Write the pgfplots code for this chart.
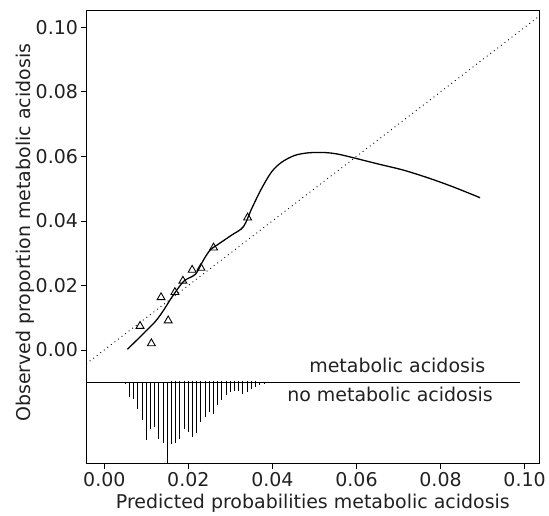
\documentclass[border=0pt]{standalone}
\usepackage{pgfplots}
\pgfplotsset{compat=1.18}
\usepackage{fontspec}
\setmainfont{DejaVu Sans}
\newcommand{\fs}{\fontsize{19.1}{23}\selectfont}
\definecolor{txt}{gray}{0.13}

\pgfplotstableread{
x y
0.0055 0.0002
0.0091 0.0048
0.0122 0.0089
0.0142 0.0125
0.0162 0.0166
0.0189 0.0213
0.0217 0.0235
0.0236 0.0279
0.0252 0.0310
0.0268 0.0325
0.0303 0.0356
0.0331 0.0382
0.0351 0.0439
0.0374 0.0500
0.0398 0.0552
0.0422 0.0582
0.0453 0.0603
0.0485 0.0611
0.0524 0.0612
0.0556 0.0607
0.0595 0.0595
0.0650 0.0577
0.0713 0.0557
0.0776 0.0531
0.0831 0.0505
0.0894 0.0472
}\curve

\pgfplotstableread{
x y
0.0341 0.0410
0.0260 0.0317
0.0230 0.0254
0.0209 0.0248
0.0187 0.0214
0.0168 0.0179
0.0135 0.0163
0.0085 0.0074
0.0152 0.0091
0.0112 0.0020
}\groups

\pgfplotstableread{
x y d
0.005 -0.01 0.0005
0.006 -0.01 0.0046
0.007 -0.01 0.0051
0.008 -0.01 0.0082
0.009 -0.01 0.0118
0.010 -0.01 0.0180
0.011 -0.01 0.0144
0.012 -0.01 0.0139
0.013 -0.01 0.0175
0.014 -0.01 0.0190
0.015 -0.01 0.0252
0.016 -0.01 0.0192
0.017 -0.01 0.0188
0.018 -0.01 0.0175
0.019 -0.01 0.0144
0.020 -0.01 0.0154
0.021 -0.01 0.0169
0.022 -0.01 0.0159
0.023 -0.01 0.0123
0.024 -0.01 0.0108
0.025 -0.01 0.0092
0.026 -0.01 0.0098
0.027 -0.01 0.0072
0.028 -0.01 0.0056
0.029 -0.01 0.0041
0.030 -0.01 0.0031
0.031 -0.01 0.0028
0.032 -0.01 0.0026
0.033 -0.01 0.0036
0.034 -0.01 0.0031
0.035 -0.01 0.0021
0.036 -0.01 0.0015
0.037 -0.01 0.0010
0.038 -0.01 0.0005
0.039 -0.01 0.0003
0.040 -0.01 0.0002
0.041 -0.01 0.0002
0.042 -0.01 0.0002
0.043 -0.01 0.0002
0.044 -0.01 0.0002
0.045 -0.01 0.0002
0.046 -0.01 0.0002
0.047 -0.01 0.0002
0.048 -0.01 0.0002
0.049 -0.01 0.0002
0.050 -0.01 0.0002
0.051 -0.01 0.0002
0.052 -0.01 0.0002
}\noacid

\pgfplotstableread{
x y u
0.016 -0.01 0.0004
0.017 -0.01 0.0005
0.018 -0.01 0.0004
0.019 -0.01 0.0005
0.020 -0.01 0.0005
0.021 -0.01 0.0005
0.022 -0.01 0.0005
0.023 -0.01 0.0004
0.024 -0.01 0.0005
0.025 -0.01 0.0005
0.026 -0.01 0.0005
0.027 -0.01 0.0004
0.028 -0.01 0.0005
0.029 -0.01 0.0004
0.030 -0.01 0.0004
0.031 -0.01 0.0004
0.032 -0.01 0.0003
0.033 -0.01 0.0004
0.034 -0.01 0.0003
0.035 -0.01 0.0003
0.036 -0.01 0.0003
}\acid

\begin{document}
\begin{tikzpicture}
\begin{axis}[
 name=ax,
 scale only axis, width=456pt, height=456pt,
 xmin=-0.00426, xmax=0.1035, ymin=-0.0353, ymax=0.1051,
 xtick={0,0.02,0.04,0.06,0.08,0.1},
 ytick={0,0.02,0.04,0.06,0.08,0.1},
 scaled ticks=false,
 /pgf/number format/fixed,
 /pgf/number format/fixed zerofill,
 /pgf/number format/precision=2,
 /pgf/number format/assume math mode=true,
 tick align=outside, major tick length=5pt,
 tick style={black, line width=0.8pt},
 axis line style={black, line width=0.9pt},
 xtick pos=bottom, ytick pos=left,
 xticklabel style={font=\fs, text=txt},
 yticklabel style={font=\fs, text=txt},
 xlabel={Predicted probabilities metabolic acidosis},
 ylabel={Observed proportion metabolic acidosis},
 label style={font=\fs, text=txt},
 xlabel style={at={(axis description cs:0.5,-0.098)}, anchor=base},
 ylabel style={at={(axis description cs:-0.136,0.51)}, anchor=center},
 clip=true,
]
% diagonal reference
\addplot[black, line width=0.9pt, dash pattern=on 0.9pt off 3.6pt] coordinates {(-0.006,-0.006) (0.11,0.11)};
% baseline of histogram
\addplot[black, line width=0.9pt] coordinates {(-0.00426,-0.01) (0.0988,-0.01)};
% histogram no metabolic acidosis (downwards)
\addplot[draw=none, mark=none, error bars/.cd, y dir=minus, y explicit, error mark=none, error bar style={draw=black, line width=1pt}] table[x=x, y=y, y error minus=d] {\noacid};
% histogram metabolic acidosis (upwards)
\addplot[draw=none, mark=none, error bars/.cd, y dir=plus, y explicit, error mark=none, error bar style={draw=black, line width=1pt}] table[x=x, y=y, y error plus=u] {\acid};
% calibration curve
\addplot[black, line width=1.3pt, smooth] table[x=x, y=y] {\curve};
% grouped observations
\addplot[only marks, mark=triangle, mark size=4.6pt, mark options={black, line width=0.9pt}] table[x=x, y=y] {\groups};
\node[font=\fs, text=txt, anchor=base] at (axis cs:0.0697,-0.0070) {metabolic acidosis};
\node[font=\fs, text=txt, anchor=base] at (axis cs:0.0680,-0.0161) {no metabolic acidosis};
\end{axis}
\path ([shift={(-87pt,-49pt)}]ax.south west) rectangle ([shift={(6pt,11pt)}]ax.north east);
\end{tikzpicture}
\end{document}
